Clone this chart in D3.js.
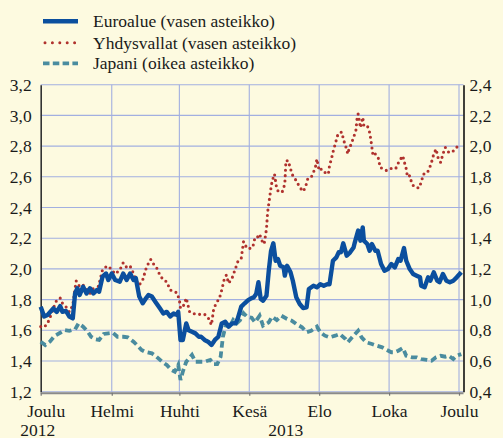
<!DOCTYPE html>
<html><head><meta charset="utf-8">
<script src="https://cdn.jsdelivr.net/npm/d3@7"></script>
<style>
html,body{margin:0;padding:0;background:#fdfae0;}
svg{display:block;}
svg text{font-family:"Liberation Serif","Times New Roman",serif !important;fill:#1a1a1a;}
</style></head><body>
<svg id="c" width="503" height="438"></svg>
<script>
// ---- data (days counted from 1 Dec 2012) ----
const startDate = new Date(2012, 11, 1);
const endDate = new Date(2013, 11, 1);
const seriesNames = ["Euroalue (vasen asteikko)", "Yhdysvallat (vasen asteikko)", "Japani (oikea asteikko)"];

const euroDays = [0,3,6,11,14,17,19,22,25,28,30,32,34,37,40,43,46,49,51,54,57,59,62,65,69,72,75,78,81,83,86,89,92,94,97,100,104,107,110,113,116,119,120,122,124,127,129,132,135,138,140,143,146,149,152,155,158,161,164,167,170,172,175,178,181,184,186,188,190,192,194,197,199,201,203,205,207,209,212,213,215,218,220,223,226,229,232,234,238,241,244,247,250,252,255,258,260,262,264,267,270,273,274,277,279,281,282,285,287,289,292,294,297,300,303,306,309,312,314,317,319,322,325,328,331,332,335,338,340,343,346,348,351,354,357,360,363,367];
const euroVals = [1.754,1.69,1.70,1.743,1.72,1.758,1.72,1.726,1.69,1.678,1.84,1.874,1.83,1.884,1.84,1.874,1.84,1.863,1.852,1.95,1.97,1.928,1.97,1.928,1.917,1.97,1.928,1.97,1.928,1.94,1.82,1.776,1.81,1.83,1.82,1.786,1.743,1.71,1.72,1.69,1.71,1.70,1.72,1.537,1.537,1.645,1.60,1.59,1.58,1.558,1.558,1.537,1.526,1.504,1.537,1.558,1.645,1.656,1.623,1.645,1.645,1.678,1.754,1.776,1.797,1.81,1.815,1.836,1.913,1.804,1.793,1.825,1.988,2.118,2.167,2.053,2.064,2.02,2.01,1.956,2.02,1.978,1.923,1.815,1.771,1.745,1.75,1.869,1.89,1.88,1.90,1.89,1.90,1.90,2.053,2.075,2.108,2.108,2.167,2.086,2.108,2.14,2.17,2.25,2.184,2.27,2.184,2.162,2.118,2.162,2.118,2.118,2.032,1.988,1.999,2.032,2.01,2.064,2.053,2.136,2.053,1.999,1.967,1.956,1.945,1.89,1.88,1.945,1.923,1.978,1.923,1.913,1.967,1.923,1.913,1.923,1.945,1.978];

const usDays = [0,3,6,9,11,14,17,19,22,25,28,30,31,34,37,40,43,46,49,51,54,57,59,62,65,69,72,75,78,81,83,86,89,92,94,96,98,101,104,107,110,113,116,119,121,122,125,127,130,133,136,139,143,146,149,151,154,156,158,160,162,164,167,170,172,175,177,180,183,185,187,189,191,193,195,197,198,199,200,201,202,204,206,208,211,213,214,216,218,220,223,226,229,231,233,236,238,240,241,243,245,248,251,252,254,255,257,259,261,263,264,266,268,269,271,273,275,276,277,279,281,282,285,287,288,289,290,292,295,296,299,302,305,308,310,313,316,317,319,320,322,324,326,330,332,334,337,339,341,343,345,347,349,351,353,356,359,363,366];
const usVals = [1.624,1.62,1.645,1.70,1.743,1.797,1.81,1.776,1.754,1.72,1.765,1.874,1.921,1.884,1.895,1.867,1.84,1.874,1.852,1.906,1.997,2.014,2.019,1.993,1.967,1.993,2.04,2.01,2.019,1.97,1.928,1.895,1.928,2.004,2.036,2.062,2.036,2.01,1.96,1.928,1.917,1.863,1.852,1.845,1.797,1.743,1.765,1.81,1.72,1.71,1.704,1.704,1.704,1.685,1.635,1.743,1.786,1.81,1.863,1.928,1.96,1.906,1.94,2.004,2.047,2.069,2.178,2.134,2.134,2.14,2.205,2.205,2.227,2.184,2.162,2.26,2.369,2.423,2.477,2.532,2.575,2.618,2.52,2.499,2.505,2.553,2.705,2.705,2.651,2.607,2.575,2.532,2.505,2.532,2.586,2.597,2.629,2.672,2.716,2.64,2.651,2.629,2.618,2.672,2.727,2.76,2.814,2.868,2.89,2.89,2.846,2.803,2.749,2.781,2.814,2.857,2.90,2.976,3.009,2.92,2.988,2.933,2.933,2.89,2.846,2.792,2.737,2.749,2.716,2.662,2.651,2.64,2.651,2.662,2.657,2.705,2.737,2.705,2.651,2.60,2.607,2.553,2.535,2.527,2.564,2.618,2.623,2.651,2.694,2.749,2.781,2.716,2.694,2.749,2.792,2.76,2.76,2.792,2.818];

const japanDays = [0,4,8,12,17,21,25,30,33,37,41,44,48,51,55,59,63,67,72,76,81,84,88,91,97,101,106,110,114,117,120,122,124,127,132,135,139,143,148,151,154,157,159,162,165,168,171,174,177,180,184,187,191,194,199,202,206,210,215,219,223,228,232,236,241,244,248,252,257,261,266,268,273,277,280,284,289,293,298,302,306,309,312,316,319,324,328,332,337,341,345,349,353,356,360,363,367];
const japanVals = [0.726,0.704,0.726,0.763,0.784,0.802,0.797,0.806,0.845,0.824,0.791,0.758,0.741,0.737,0.776,0.78,0.784,0.758,0.758,0.754,0.726,0.704,0.672,0.66,0.65,0.628,0.595,0.574,0.541,0.53,0.574,0.476,0.53,0.595,0.639,0.595,0.595,0.595,0.607,0.579,0.579,0.628,0.758,0.845,0.824,0.867,0.845,0.867,0.911,0.889,0.882,0.852,0.895,0.83,0.852,0.889,0.867,0.895,0.874,0.863,0.841,0.82,0.787,0.797,0.824,0.787,0.765,0.754,0.765,0.776,0.743,0.722,0.765,0.797,0.754,0.722,0.711,0.70,0.689,0.672,0.657,0.657,0.667,0.685,0.634,0.624,0.624,0.613,0.607,0.602,0.624,0.634,0.628,0.634,0.613,0.634,0.645];

const leftTicks = [1.2,1.4,1.6,1.8,2.0,2.2,2.4,2.6,2.8,3.0,3.2];
const rightTicks = [0.4,0.6,0.8,1.0,1.2,1.4,1.6,1.8,2.0,2.2,2.4];
const monthTicks = [new Date(2012,11,1),new Date(2013,1,1),new Date(2013,3,1),new Date(2013,5,1),new Date(2013,7,1),new Date(2013,9,1),new Date(2013,11,1)];
const monthLabels = ["Joulu","Helmi","Huhti","Kesä","Elo","Loka","Joulu"];
const yearLabels = [{date:new Date(2012,11,1), text:"2012"},{date:new Date(2013,6,1), text:"2013"}];

// ---- layout ----
const L = 40.7, R = 459, RA = 463.5, T = 84.7, B = 391.7;
const colEuro = "#0b4f9e", colUS = "#b0322e", colJP = "#4a8c9f", colGrid = "#a2afe0";
const FONT = "'Liberation Serif', 'Times New Roman', serif";

const x = d3.scaleTime().domain([startDate, endDate]).range([L, R]);
const yL = d3.scaleLinear().domain([1.2, 3.2]).range([B, T]);
const yR = d3.scaleLinear().domain([0.4, 2.4]).range([B, T]);
const fmt = d => d3.format(".1f")(d).replace(".", ",");

const svg = d3.select("#c");
svg.append("rect").attr("width",503).attr("height",438).attr("fill","#fdfae0");

// grid
svg.append("g").selectAll("line").data(leftTicks).join("line")
  .attr("x1", L).attr("x2", RA).attr("y1", d => yL(d)).attr("y2", d => yL(d))
  .attr("stroke", colGrid).attr("stroke-width", 1.1);
svg.append("g").selectAll("line").data(monthTicks.slice(1)).join("line")
  .attr("x1", d => x(d)).attr("x2", d => x(d)).attr("y1", T).attr("y2", B)
  .attr("stroke", colGrid).attr("stroke-width", 1.1);

const styleText = sel => sel.attr("font-size", "17.5px").style("font-family", FONT).attr("fill", "#1a1a1a");

// left axis
const gl = svg.append("g").attr("transform", `translate(${L},0)`)
  .call(d3.axisLeft(yL).tickValues(leftTicks).tickFormat(fmt).tickSize(0).tickPadding(9));
gl.attr("font-family", null);
gl.select(".domain").attr("stroke", "#333").attr("stroke-width", 1.6);
styleText(gl.selectAll("text"));

// right axis
const gr = svg.append("g").attr("transform", `translate(${RA},0)`)
  .call(d3.axisRight(yR).tickValues(rightTicks).tickFormat(fmt).tickSize(0).tickPadding(6));
gr.attr("font-family", null);
gr.select(".domain").attr("stroke", "#111").attr("stroke-width", 1.6);
styleText(gr.selectAll("text"));

// bottom axis
const gb = svg.append("g").attr("transform", `translate(0,${B + 1})`)
  .call(d3.axisBottom(x).tickValues(monthTicks).tickFormat((d, i) => monthLabels[i]).tickSizeInner(3).tickSizeOuter(0).tickPadding(9));
gb.attr("font-family", null);
gb.select(".domain").attr("stroke", "#8a8a8a").attr("stroke-width", 2).attr("d", `M${L},0.5H${RA}`);
gb.selectAll(".tick line").attr("stroke", "#777").attr("stroke-width", 1.2);
styleText(gb.selectAll("text")).attr("dx", (d, i) => i === 0 ? 5 : 0);
styleText(svg.append("g").selectAll("text").data(yearLabels).join("text")
  .attr("x", d => x(d.date) + (d.text === "2012" ? -3 : 2)).attr("y", 435.5)
  .attr("text-anchor", "middle").text(d => d.text));

// series
const dayDate = d => d3.timeDay.offset(startDate, d);
const plot = svg.append("g");
const mk = (days, vals) => days.map((d, i) => [dayDate(d), vals[i]]);

plot.append("path").datum(mk(japanDays, japanVals))
  .attr("d", d3.line().x(d => x(d[0])).y(d => yR(d[1])))
  .attr("fill", "none").attr("stroke", colJP).attr("stroke-width", 3.8)
  .attr("stroke-dasharray", "6.5,3.8");

plot.append("path").datum(mk(usDays, usVals))
  .attr("d", d3.line().x(d => x(d[0])).y(d => yL(d[1])))
  .attr("fill", "none").attr("stroke", colUS).attr("stroke-width", 3.1)
  .attr("stroke-linecap", "round").attr("stroke-dasharray", "0,5.4");

plot.append("path").datum(mk(euroDays, euroVals))
  .attr("d", d3.line().x(d => x(d[0])).y(d => yL(d[1])))
  .attr("fill", "none").attr("stroke", colEuro).attr("stroke-width", 4.4)
  .attr("stroke-linejoin", "round");

// legend
const lg = svg.append("g");
const rows = [
  {name: seriesNames[0], color: colEuro, w: 4.5, dash: null, cap: "butt", y: 21.3},
  {name: seriesNames[1], color: colUS, w: 3, dash: "0,7.4", cap: "round", y: 42.7},
  {name: seriesNames[2], color: colJP, w: 3.8, dash: "6.5,3.3", cap: "butt", y: 63.3}
];
rows.forEach(r => {
  lg.append("line").attr("x1", r.cap === "round" ? 45 : 43).attr("x2", 78).attr("y1", r.y).attr("y2", r.y)
    .attr("stroke", r.color).attr("stroke-width", r.w).attr("stroke-linecap", r.cap)
    .attr("stroke-dasharray", r.dash);
  styleText(lg.append("text").attr("x", 93).attr("y", r.y + 5.8).text(r.name));
});
</script>
</body></html>
